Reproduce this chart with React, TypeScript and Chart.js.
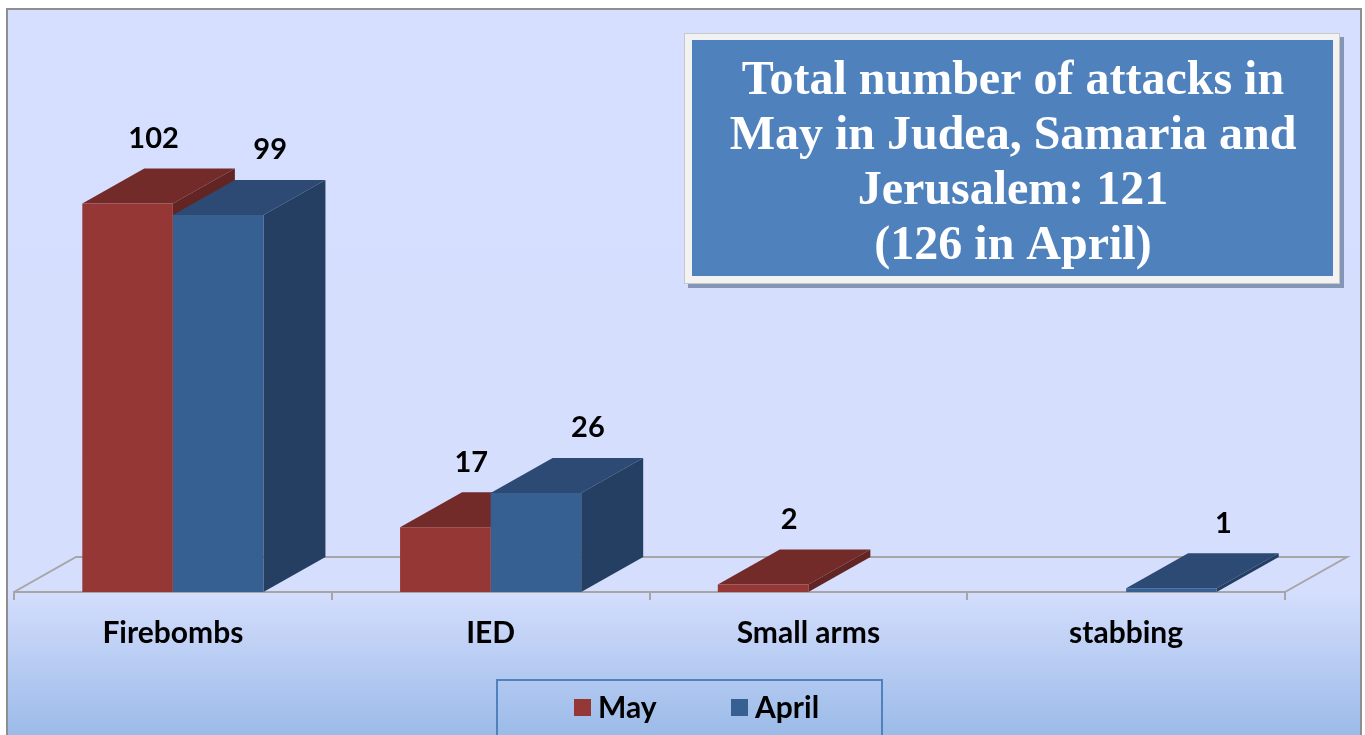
import React, { useEffect, useRef } from 'react';
import { Chart, registerables } from 'chart.js';

Chart.register(...registerables);

const categories = ['Firebombs', 'IED', 'Small arms', 'stabbing'];
const seriesNames = ['May', 'April'];
const mayValues = [102, 17, 2, 0];
const aprilValues = [99, 26, 0, 1];
const titleLines = [
  'Total number of attacks in',
  'May in Judea, Samaria and',
  'Jerusalem: 121',
  '(126 in April)',
];

const FRONT = ['#953735', '#376092'];
const TOP = ['#732B29', '#2C4A73'];
const SIDE = ['#632523', '#243F61'];
const DEPTH_X = 62;
const DEPTH_Y = -35;
const SANS = 'Lato, "Open Sans", sans-serif';
const SERIF = '"Liberation Serif", "DejaVu Serif", serif';

const backgroundPlugin = {
  id: 'bgFrame',
  beforeDraw(chart: any) {
    const { ctx, width, height } = chart;
    ctx.save();
    ctx.fillStyle = '#ffffff';
    ctx.fillRect(0, 0, width, height);
    const g = ctx.createLinearGradient(0, 9, 0, height);
    g.addColorStop(0, '#D6DFFF');
    g.addColorStop(0.8, '#D5DEFD');
    g.addColorStop(1, '#9BBBE8');
    ctx.fillStyle = g;
    ctx.fillRect(7, 9, 1354, height);
    ctx.strokeStyle = '#8E8E8E';
    ctx.lineWidth = 2;
    ctx.strokeRect(7, 9, 1354, height + 10);
    ctx.restore();
  },
};

const depthPlugin = {
  id: 'depth3d',
  beforeDatasetsDraw(chart: any) {
    const { ctx, chartArea } = chart;
    const y0 = chart.scales.y.getPixelForValue(0);
    ctx.save();
    ctx.strokeStyle = '#A6A6A6';
    ctx.lineWidth = 2;
    ctx.beginPath();
    ctx.moveTo(chartArea.left, y0);
    ctx.lineTo(chartArea.left + DEPTH_X, y0 + DEPTH_Y);
    ctx.lineTo(chartArea.right + DEPTH_X, y0 + DEPTH_Y);
    ctx.lineTo(chartArea.right, y0);
    ctx.stroke();
    chart.data.datasets.forEach((ds: any, i: number) => {
      const meta = chart.getDatasetMeta(i);
      meta.data.forEach((el: any, j: number) => {
        if (!ds.data[j]) return;
        const { x, y, base, width } = el.getProps(['x', 'y', 'base', 'width'], true);
        const l = x - width / 2;
        const r = x + width / 2;
        ctx.fillStyle = TOP[i];
        ctx.beginPath();
        ctx.moveTo(l, y);
        ctx.lineTo(l + DEPTH_X, y + DEPTH_Y);
        ctx.lineTo(r + DEPTH_X, y + DEPTH_Y);
        ctx.lineTo(r, y);
        ctx.closePath();
        ctx.fill();
        ctx.fillStyle = SIDE[i];
        ctx.beginPath();
        ctx.moveTo(r, y);
        ctx.lineTo(r + DEPTH_X, y + DEPTH_Y);
        ctx.lineTo(r + DEPTH_X, base + DEPTH_Y);
        ctx.lineTo(r, base);
        ctx.closePath();
        ctx.fill();
      });
    });
    ctx.restore();
  },
  afterDatasetsDraw(chart: any) {
    const { ctx } = chart;
    ctx.save();
    ctx.fillStyle = '#000';
    ctx.font = `bold 29px ${SANS}`;
    ctx.textAlign = 'center';
    ctx.textBaseline = 'middle';
    chart.data.datasets.forEach((ds: any, i: number) => {
      const meta = chart.getDatasetMeta(i);
      meta.data.forEach((el: any, j: number) => {
        const v = ds.data[j];
        if (!v) return;
        const { x, y } = el.getProps(['x', 'y'], true);
        ctx.fillText(String(v), x + (i === 0 ? 26 : 52), y - 65);
      });
    });
    ctx.restore();
  },
};

const overlayPlugin = {
  id: 'overlay',
  afterDraw(chart: any) {
    const { ctx } = chart;
    ctx.save();
    ctx.fillStyle = '#8495B5';
    ctx.fillRect(688, 37, 656, 251);
    ctx.fillStyle = '#F2F2F2';
    ctx.fillRect(684, 33, 656, 251);
    ctx.strokeStyle = '#C8C8C8';
    ctx.lineWidth = 1;
    ctx.strokeRect(684.5, 33.5, 655, 250);
    ctx.fillStyle = '#4F81BD';
    ctx.fillRect(692, 40, 641, 236);
    ctx.fillStyle = '#ffffff';
    ctx.font = `bold 48px ${SERIF}`;
    ctx.textAlign = 'center';
    ctx.textBaseline = 'alphabetic';
    titleLines.forEach((line, k) => {
      ctx.fillText(line, 1013, 94 + k * 55);
    });

    ctx.strokeStyle = '#4F81BD';
    ctx.lineWidth = 2;
    ctx.strokeRect(497, 680, 385, 70);
    ctx.font = `bold 30px ${SANS}`;
    ctx.textAlign = 'left';
    ctx.textBaseline = 'middle';
    const itemX = [574, 731];
    chart.data.datasets.forEach((ds: any, i: number) => {
      ctx.fillStyle = ds.backgroundColor;
      ctx.fillRect(itemX[i], 699, 17, 17);
      ctx.fillStyle = '#000';
      ctx.fillText(ds.label, itemX[i] + 24, 708);
    });
    ctx.restore();
  },
};

export default function App() {
  const ref = useRef<HTMLCanvasElement>(null);

  useEffect(() => {
    const chart = new Chart(ref.current as HTMLCanvasElement, {
      type: 'bar',
      data: {
        labels: categories,
        datasets: [
          {
            label: seriesNames[0],
            data: mayValues,
            backgroundColor: FRONT[0],
            borderWidth: 0,
            categoryPercentage: 0.57,
            barPercentage: 1,
          },
          {
            label: seriesNames[1],
            data: aprilValues,
            backgroundColor: FRONT[1],
            borderWidth: 0,
            categoryPercentage: 0.57,
            barPercentage: 1,
          },
        ],
      },
      options: {
        responsive: false,
        animation: false,
        layout: { padding: { left: 14, right: 80, top: 135, bottom: 0 } },
        plugins: {
          legend: { display: false },
          tooltip: { enabled: false },
        },
        scales: {
          x: {
            afterFit: (s: any) => {
              s.height = 143;
            },
            grid: {
              drawOnChartArea: false,
              color: '#A6A6A6',
              lineWidth: 2,
              tickLength: 8,
              offset: true,
            },
            border: { color: '#A6A6A6', width: 2 },
            ticks: {
              color: '#000',
              font: { family: SANS, size: 30, weight: 'bold' },
              padding: 15,
            },
          },
          y: { display: false, min: 0, max: 120 },
        },
      },
      plugins: [backgroundPlugin, depthPlugin, overlayPlugin],
    } as any);
    return () => chart.destroy();
  }, []);

  return (
    <div style={{ position: 'fixed', left: 0, top: 0, width: 1365, height: 735 }}>
      <canvas ref={ref} width={1365} height={735} style={{ display: 'block' }} />
    </div>
  );
}
